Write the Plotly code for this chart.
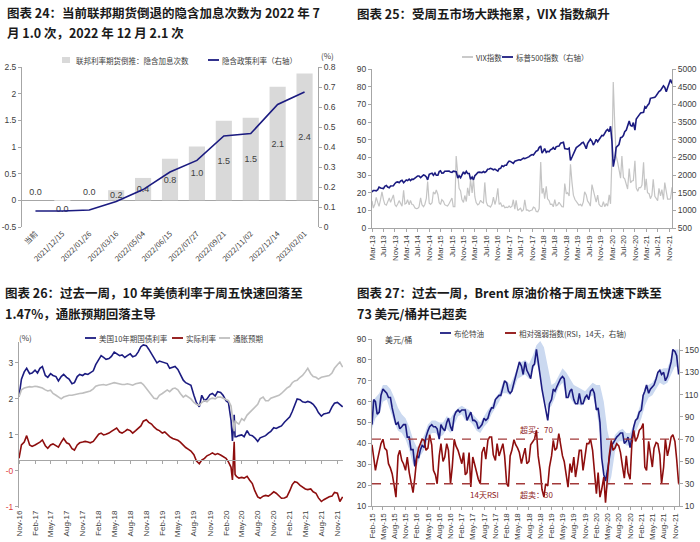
import pandas as pd
import plotly.graph_objects as go

# ---------------- panel 24: implied hikes / implied policy rate ----------------
meeting_labels = ['当前', '2021/12/15', '2022/01/26', '2022/03/16', '2022/05/04', '2022/06/15',
                  '2022/07/27', '2022/09/21', '2022/11/02', '2022/12/14', '2023/02/01']
hike_counts = [0.0, -0.001, 0.0, 0.19, 0.42, 0.78, 1.01, 1.49, 1.55, 2.13, 2.38]
hike_text = ['0.0', '0.0', '0.0', '0.2', '0.4', '0.8', '1.0', '1.5', '1.5', '2.1', '2.4']
implied_rate = [0.08, 0.08, 0.085, 0.128, 0.187, 0.275, 0.333, 0.455, 0.467, 0.613, 0.675]
hike_ticks = [2.5, 2, 1.5, 1, 0.5, 0, -0.5]

# ---------------- panel 25: VIX / S&P 500 (semi-monthly, from Mar-13) ----------------
vix = [15.4, 11.3, 13.6, 17.3, 14.5, 12.3, 16.3, 20.5, 16.0, 13.5, 12.9, 15.1, 17.0, 14.5, 16.6, 18.7, 13.1, 12.2, 13.7, 15.5,
       13.8, 12.3, 21.4, 13.6, 14.0, 16.0, 13.1, 15.6, 13.3, 13.2, 11.4, 11.0, 11.1, 11.9, 17.0, 13.2, 12.1, 13.3, 16.7, 26.3, 14.0, 13.3, 14.3, 20.4,
       19.2, 21.5, 19.0, 14.3, 13.3, 16.0, 15.1, 13.2, 12.7, 12.4, 13.9, 15.0, 17.0, 12.1, 12.1, 40.7, 31.4, 22.5, 21.0, 16.1, 14.5, 18.4, 15.0, 22.7,
       18.2, 27.6, 19.9, 28.1, 17.7, 14.4, 13.1, 13.6, 15.7, 14.7, 14.2, 25.8, 14.8, 12.7, 12.4, 11.8, 13.5, 17.5, 13.3, 16.1, 22.5, 13.4, 14.1, 12.2,
       12.8, 11.5, 11.8, 11.6, 12.5, 11.6, 12.4, 16.0, 10.6, 15.6, 9.9, 10.6, 11.2, 9.5, 10.3, 16.0, 10.1, 10.2, 9.5, 9.9, 10.2, 11.8, 11.4, 9.4,
       9.2, 10.9, 37.3, 19.5, 22.5, 16.6, 23.6, 16.5, 15.5, 13.4, 13.5, 12.0, 16.1, 12.6, 13.1, 14.6, 12.9, 12.1, 12.0, 25.2, 19.3, 20.0, 18.1, 36.1,
       25.4, 18.6, 16.1, 14.9, 13.6, 12.9, 13.4, 12.3, 14.8, 20.5, 18.7, 15.3, 14.1, 12.4, 24.6, 21.2, 16.3, 14.7, 18.6, 13.5, 12.3, 12.1, 14.9, 12.1,
       13.8, 12.4, 18.8, 13.7, 40.1, 82.7, 57.1, 40.8, 37.2, 31.9, 28.2, 40.8, 28.6, 27.8, 24.5, 22.1, 33.6, 25.6, 26.7, 26.9, 38.0, 22.7, 20.8, 22.9,
       22.8, 24.3, 37.2, 21.5, 27.9, 20.0, 19.4, 16.6, 18.6, 27.6, 17.9, 17.0, 15.5, 22.5, 18.2, 21.7, 16.1, 25.7, 21.1, 16.3, 16.4, 16.5, 23.0]
spx = [1518, 1561, 1562, 1552, 1582, 1658, 1631, 1626, 1615, 1682, 1706, 1661, 1640, 1688, 1695, 1698, 1762, 1798, 1806, 1781,
       1832, 1848, 1782, 1838, 1859, 1841, 1885, 1842, 1883, 1878, 1924, 1937, 1973, 1973, 1925, 1955, 2003, 1985, 1946, 1862, 2018, 2039, 2053, 1990,
       2058, 1992, 1995, 2096, 2117, 2053, 2059, 2106, 2108, 2122, 2111, 2084, 2077, 2107, 2104, 2091, 1914, 1978, 1923, 2023, 2090, 2023, 2102, 2043,
       2044, 1880, 1940, 1864, 1978, 2016, 2073, 2080, 2081, 2067, 2099, 2072, 2103, 2161, 2170, 2190, 2170, 2147, 2168, 2133, 2111, 2180, 2191, 2262,
       2239, 2275, 2279, 2349, 2395, 2385, 2362, 2329, 2388, 2402, 2430, 2432, 2423, 2459, 2476, 2464, 2476, 2500, 2519, 2553, 2579, 2564, 2642, 2675,
       2695, 2776, 2822, 2620, 2677, 2747, 2641, 2671, 2655, 2711, 2735, 2779, 2718, 2798, 2813, 2818, 2901, 2905, 2924, 2750, 2740, 2730, 2760, 2416,
       2510, 2610, 2706, 2775, 2803, 2822, 2867, 2905, 2924, 2850, 2744, 2886, 2964, 3014, 2953, 2848, 2926, 3007, 2940, 2995, 3066, 3120, 3113, 3191,
       3258, 3289, 3226, 3380, 2954, 2237, 2470, 2783, 2830, 2863, 3055, 3066, 3115, 3227, 3271, 3373, 3526, 3401, 3380, 3483, 3270, 3585, 3662, 3694,
       3756, 3768, 3774, 3934, 3901, 3968, 4020, 4170, 4181, 4173, 4202, 4246, 4320, 4360, 4395, 4468, 4524, 4480, 4357, 4471, 4613, 4700, 4590]

# ---------------- panel 26: US 10y, real rate, breakeven (semi-monthly, from Nov-16) ----------------
ust10 = [2.06, 2.55, 2.75, 2.85, 2.70, 2.72, 2.80, 2.72, 2.85, 2.90, 2.65, 2.60,
         2.70, 2.65, 2.62, 2.50, 2.62, 2.68, 2.60, 2.55, 2.42, 2.45, 2.62, 2.68,
         2.65, 2.70, 2.68, 2.72, 2.78, 2.95, 3.10, 3.20, 3.15, 3.10, 3.12, 3.18,
         3.30, 3.25, 3.20, 3.22, 3.15, 3.20, 3.25, 3.17, 3.20, 3.30, 3.45, 3.50,
         3.48, 3.38, 3.25, 3.10, 3.00, 3.05, 3.02, 3.00, 2.98, 2.85, 2.88, 2.90,
         2.82, 2.70, 2.52, 2.45, 2.42, 2.38, 2.10, 1.90, 1.78, 2.10, 1.95, 2.00,
         2.12, 2.15, 2.08, 2.20, 2.18, 2.10, 1.95, 1.90, 1.40, 1.20, 0.95, 0.98,
         1.00, 0.95, 1.12, 1.00, 0.98, 0.92, 0.82, 0.92, 0.95, 0.98, 1.05, 1.10,
         1.20, 1.18, 1.22, 1.25, 1.35, 1.42, 1.50, 1.65, 1.85, 2.00, 1.98, 1.92,
         1.90, 1.93, 1.90, 1.85, 1.75, 1.62, 1.52, 1.58, 1.60, 1.62, 1.78, 1.88,
         1.90, 1.85, 1.78]
breakeven = [2.06, 2.25, 2.30, 2.32, 2.34, 2.33, 2.35, 2.34, 2.33, 2.30, 2.25, 2.22,
             2.24, 2.15, 2.10, 2.05, 2.00, 2.05, 2.08, 2.10, 2.10, 2.12, 2.15, 2.15,
             2.16, 2.18, 2.20, 2.22, 2.28, 2.35, 2.38, 2.40, 2.40, 2.38, 2.42, 2.43,
             2.45, 2.43, 2.42, 2.40, 2.40, 2.42, 2.40, 2.38, 2.42, 2.44, 2.45, 2.40,
             2.30, 2.20, 2.10, 2.02, 2.00, 2.10, 2.15, 2.20, 2.25, 2.20, 2.28, 2.30,
             2.25, 2.15, 2.05, 2.10, 2.05, 2.00, 1.90, 1.85, 1.82, 1.90, 1.95, 1.92,
             2.00, 2.02, 2.00, 2.05, 2.05, 2.02, 2.00, 1.95, 1.80, 1.30, 1.35, 1.30,
             1.45, 1.40, 1.55, 1.62, 1.70, 1.75, 1.85, 2.00, 2.05, 1.95, 1.95, 2.02,
             2.05, 2.08, 2.10, 2.15, 2.25, 2.30, 2.35, 2.45, 2.50, 2.52, 2.60, 2.65,
             2.75, 2.85, 2.70, 2.62, 2.60, 2.55, 2.60, 2.62, 2.63, 2.65, 2.72, 2.85,
             2.95, 3.02, 2.88]
real_rate = [0.35, 0.72, 0.80, 0.98, 0.72, 0.68, 0.72, 0.75, 0.80, 0.86, 0.70, 0.63,
             0.72, 0.75, 0.70, 0.66, 0.80, 0.90, 0.78, 0.75, 0.62, 0.58, 0.72, 0.78,
             0.80, 0.82, 0.80, 0.78, 0.82, 0.90, 1.02, 1.05, 1.00, 1.02, 1.05, 1.10,
             1.15, 1.19, 1.08, 1.05, 1.10, 1.15, 1.12, 1.05, 1.12, 1.18, 1.25, 1.38,
             1.42, 1.35, 1.30, 1.22, 1.15, 1.12, 1.05, 1.08, 1.00, 0.95, 0.90, 0.88,
             0.85, 0.80, 0.70, 0.65, 0.60, 0.55, 0.45, 0.28, 0.20, 0.30, 0.35, 0.42,
             0.46, 0.50, 0.45, 0.48, 0.44, 0.40, 0.35, 0.25, 0.10, 0.20, -0.15, -0.20,
             -0.18, -0.20, -0.15, -0.25, -0.35, -0.55, -0.72, -0.76, -0.70, -0.68, -0.70, -0.65,
             -0.58, -0.62, -0.70, -0.76, -0.75, -0.72, -0.55, -0.38, -0.30, -0.32, -0.40, -0.45,
             -0.50, -0.52, -0.50, -0.58, -0.62, -0.75, -0.85, -0.80, -0.75, -0.72, -0.70, -0.60,
             -0.62, -0.85, -0.72]
# March 2020 swings
mar20_dates = ['2020-03-09', '2020-03-19', '2020-03-24']
ust10_mar20 = [0.83, 1.56, 0.95]
breakeven_mar20 = [1.45, 1.10, 1.40]
real_mar20 = [-0.25, 0.81, -0.10]
us_ticks = [3, 2, 1, 0, -1]
us_ticktext = ['3', '2', '1', '<span style="color:#e03c3c">-0</span>', '<span style="color:#e03c3c">-1</span>']
axis_cross = 0.3

# ---------------- panel 27: Brent, band, RSI (semi-monthly from Feb-15, band monthly) ----------------
brent = [49, 61, 60, 54, 55, 63, 66, 65, 64, 62, 62, 57, 52, 49, 50, 47, 48, 49, 49, 43, 43, 37,
         37, 29, 34, 33, 37, 39, 38, 43, 46, 48, 49, 48, 48, 47, 42, 49, 47, 46, 50, 52, 48, 46, 53, 55,
         56, 55, 56, 56, 56, 51, 53, 55, 51, 51, 50, 47, 48, 49, 52, 51, 52, 55, 57, 57, 61, 62, 63, 63,
         67, 70, 69, 65, 64, 65, 69, 72, 75, 79, 77, 73, 79, 75, 73, 71, 77, 78, 85, 80, 72, 66, 61, 56,
         51, 59, 61, 66, 65, 67, 69, 71, 72, 71, 62, 62, 65, 66, 61, 59, 59, 64, 59, 59, 62, 63, 61, 65,
         66, 64, 56, 57, 50, 33, 25, 22, 27, 32, 39, 40, 42, 43, 44, 45, 45, 40, 41, 43, 38, 43, 48, 51,
         52, 55, 56, 63, 65, 68, 64, 66, 67, 68, 71, 74, 75, 73, 74, 70, 72, 75, 79, 85, 84, 82, 73]
band_upper = [60, 62, 64, 68, 68, 66, 62, 57, 54, 52, 48,
              42, 38, 40, 44, 49, 51, 51, 50, 50, 53, 52, 55,
              57, 58, 57, 56, 54, 52, 50, 53, 56, 58, 62, 64,
              69, 70, 68, 72, 77, 79, 80, 78, 82, 87, 89, 86,
              76, 68, 69, 73, 76, 74, 71, 68, 67, 66, 65, 67,
              69, 68, 68, 60, 46, 38, 44, 46, 47, 45, 45, 49,
              55, 60, 67, 68, 69, 72, 75, 76, 76, 81, 85, 85]
band_lower = [47, 52, 54, 60, 61, 56, 50, 46, 45, 42, 37,
              30, 29, 34, 37, 42, 45, 45, 43, 44, 47, 45, 49,
              53, 54, 51, 51, 49, 46, 45, 48, 50, 54, 57, 60,
              64, 64, 63, 66, 71, 72, 73, 71, 75, 79, 72, 62,
              56, 58, 62, 67, 69, 63, 62, 59, 59, 58, 60, 62,
              63, 56, 45, 24, 18, 24, 36, 41, 41, 39, 39, 43,
              48, 52, 58, 62, 63, 66, 69, 68, 69, 73, 77, 76]
rsi = [65, 54, 42, 50, 60, 66, 70, 62, 60, 48, 44, 39, 28, 18, 55, 60, 51, 48, 42, 54, 40, 33,
       22, 35, 54, 62, 66, 70, 69, 60, 62, 74, 65, 42, 38, 30, 55, 66, 50, 54, 66, 60, 30, 45, 70, 64,
       60, 55, 48, 58, 38, 40, 58, 27, 54, 48, 39, 34, 30, 58, 63, 52, 69, 72, 72, 56, 51, 66, 55, 60,
       66, 55, 30, 27.5, 55, 60, 69.5, 65, 62, 58, 48, 55, 62, 48, 50, 65, 68, 70, 78, 55, 42, 25, 18, 30,
       28, 45, 55, 69, 60, 62, 75, 65, 55, 50, 39, 27, 48, 40, 54, 36, 48, 60, 60, 42, 55, 66, 66, 70,
       60, 45, 21, 40, 18, 25, 36, 13, 35, 55, 69, 60, 62, 66, 64, 58, 45, 35, 55, 40, 34, 65, 78, 68,
       72, 78, 80, 84, 45, 42, 68, 55, 45, 62, 67, 66, 56, 30, 45, 70, 55, 62, 72, 74, 68, 52, 30]
rsi_levels = [70, 30]

NAVY = '#1b1b80'
DARKRED = '#8e0e0e'
VIXGRAY = '#c4c4c4'
BEGRAY = '#bfbfbf'
BARGRAY = '#d9d9d9'
AXIS = '#a6a6a6'
TXT = '#404040'
CJK = 'Noto Sans CJK SC'

def semi_monthly(start, values):
    return pd.date_range(start, periods=len(values), freq='SMS')

def with_extra(start, values, extra_dates, extra_values):
    s = pd.Series(values, index=semi_monthly(start, values))
    e = pd.Series(extra_values, index=pd.to_datetime(extra_dates))
    return pd.concat([s, e]).sort_index()

def px_x(p):
    return p / 700

def px_y(p):
    return 1 - p / 542

fig = go.Figure()

# panel 24
fig.add_trace(go.Bar(x=meeting_labels, y=hike_counts, text=hike_text,
                     textposition=['outside'] * 3 + ['inside'] * 8, insidetextanchor='middle', textangle=0,
                     textfont=dict(size=9, color=TXT, family='Liberation Sans'), cliponaxis=False,
                     marker=dict(color=BARGRAY, line=dict(width=0)), showlegend=False,
                     name='联邦利率期货倒推：隐含加息次数', xaxis='x', yaxis='y'))
fig.add_trace(go.Scatter(x=meeting_labels, y=implied_rate, mode='lines', line=dict(color=NAVY, width=1.6),
                         showlegend=False, name='隐含政策利率（右轴）', xaxis='x', yaxis='y2'))

# panel 25
fig.add_trace(go.Scatter(x=semi_monthly('2013-03-01', vix), y=vix, mode='lines', line=dict(color=VIXGRAY, width=1.2),
                         showlegend=False, name='VIX指数', xaxis='x2', yaxis='y3'))
fig.add_trace(go.Scatter(x=semi_monthly('2013-03-01', spx), y=spx, mode='lines', line=dict(color=NAVY, width=1.6),
                         showlegend=False, name='标普500指数（右轴）', xaxis='x2', yaxis='y4'))

# panel 26
s10 = with_extra('2016-11-01', ust10, mar20_dates, ust10_mar20)
sbe = with_extra('2016-11-01', breakeven, mar20_dates, breakeven_mar20)
sre = with_extra('2016-11-01', real_rate, mar20_dates, real_mar20)
fig.add_trace(go.Scatter(x=s10.index, y=s10.values, mode='lines', line=dict(color=NAVY, width=1.6),
                         showlegend=False, name='美国10年期国债利率', xaxis='x3', yaxis='y5'))
fig.add_trace(go.Scatter(x=sre.index, y=sre.values, mode='lines', line=dict(color=DARKRED, width=1.6),
                         showlegend=False, name='实际利率', xaxis='x5', yaxis='y5'))
fig.add_trace(go.Scatter(x=sbe.index, y=sbe.values, mode='lines', line=dict(color=BEGRAY, width=1.6),
                         showlegend=False, name='通胀预期', xaxis='x3', yaxis='y5'))

# panel 27
d_band = pd.date_range('2015-02-01', periods=len(band_upper), freq='MS')
fig.add_trace(go.Scatter(x=d_band, y=band_lower, mode='lines', line=dict(width=0, color='#cbd9f0'),
                         showlegend=False, hoverinfo='skip', xaxis='x4', yaxis='y6'))
fig.add_trace(go.Scatter(x=d_band, y=band_upper, mode='lines', line=dict(width=0, color='#cbd9f0'),
                         fill='tonexty', fillcolor='#cbd9f0', showlegend=False, hoverinfo='skip',
                         xaxis='x4', yaxis='y6'))
fig.add_trace(go.Scatter(x=semi_monthly('2015-02-01', brent), y=brent, mode='lines', line=dict(color=NAVY, width=1.6),
                         showlegend=False, name='布伦特油', xaxis='x4', yaxis='y6'))
fig.add_trace(go.Scatter(x=semi_monthly('2015-02-01', rsi), y=rsi, mode='lines', line=dict(color=DARKRED, width=1.6),
                         showlegend=False, name='相对强弱指数(RSI，14天，右轴)', xaxis='x4', yaxis='y7'))

for lvl in rsi_levels:
    fig.add_shape(type='line', xref='x4 domain', yref='y7', x0=0, x1=1, y0=lvl, y1=lvl,
                  line=dict(color='#a33a3a', width=1.3, dash='dash'))

# small legends: (symbol x, y, kind, colour, label) in page pixels
legend_items = [
    (62, 60, 'box', BARGRAY, '联邦利率期货倒推：隐含加息次数'),
    (208, 60, 'line', NAVY, '隐含政策利率（右轴）'),
    (462, 57, 'line', VIXGRAY, 'VIX指数'),
    (502, 57, 'line', NAVY, '标普500指数（右轴）'),
    (85, 338, 'line', NAVY, '美国10年期国债利率'),
    (172, 338, 'line', DARKRED, '实际利率'),
    (219, 338, 'line', BEGRAY, '通胀预期'),
    (440, 333, 'line', NAVY, '布伦特油'),
    (505, 333, 'line', DARKRED, '相对强弱指数(RSI，14天，右轴)'),
]
for x, y, kind, col, label in legend_items:
    if kind == 'box':
        fig.add_shape(type='rect', xref='paper', yref='paper', x0=px_x(x), x1=px_x(x + 8),
                      y0=px_y(y + 3), y1=px_y(y - 3), fillcolor=col, line=dict(width=0))
    else:
        fig.add_shape(type='line', xref='paper', yref='paper', x0=px_x(x), x1=px_x(x + 11),
                      y0=px_y(y), y1=px_y(y), line=dict(color=col, width=1.8))
    fig.add_annotation(xref='paper', yref='paper', x=px_x(x + 12), y=px_y(y), text=label, showarrow=False,
                       xanchor='left', yanchor='middle', font=dict(size=7.5, color=TXT, family=CJK))

tick = dict(size=8.5, color=TXT, family='Liberation Sans')
date_tick = dict(size=8, color=TXT, family='Liberation Sans')
yax = dict(showgrid=False, zeroline=False, showline=True, linecolor=AXIS, linewidth=1, automargin=False,
           ticks='outside', ticklen=3, tickcolor=AXIS, tickfont=tick)
dax = dict(type='date', showgrid=False, zeroline=False, showline=True, linecolor=AXIS, automargin=False,
           ticks='outside', ticklen=3, tickcolor=AXIS, tickformat='%b-%y', tickangle=-90, tickfont=date_tick)

us_rng = [-1.03, 3.58]
us_dom = [px_y(508), px_y(342)]
cross_pos = us_dom[0] + (axis_cross - us_rng[0]) / (us_rng[1] - us_rng[0]) * (us_dom[1] - us_dom[0])

fig.update_layout(
    width=700, height=542, margin=dict(l=0, r=0, t=0, b=0, autoexpand=False),
    paper_bgcolor='white', plot_bgcolor='white', showlegend=False,
    font=dict(family=CJK, color=TXT),
    uniformtext=dict(minsize=9, mode='show'),
    bargap=0.4,
    xaxis=dict(domain=[px_x(22), px_x(318)], anchor='y', type='category', tickangle=-45, automargin=False,
               showline=False, ticks='', tickfont=dict(size=7.5, color=TXT, family=CJK)),
    yaxis=dict(yax, domain=[px_y(227), px_y(67)], anchor='x', range=[-0.5, 2.5],
               tickvals=hike_ticks, ticktext=[f'{v:g}' for v in hike_ticks],
               zeroline=True, zerolinecolor=AXIS, zerolinewidth=1),
    yaxis2=dict(yax, overlaying='y', side='right', anchor='x', range=[0, 0.8], dtick=0.1),
    xaxis2=dict(dax, domain=[px_x(372), px_x(672)], anchor='y3', range=['2013-03-01', '2021-12-01'],
                tick0='2013-03-01', dtick='M4'),
    yaxis3=dict(yax, domain=[px_y(228), px_y(69)], anchor='x2', range=[0, 90], dtick=10),
    yaxis4=dict(yax, overlaying='y3', side='right', anchor='x2', range=[500, 5000], dtick=500),
    xaxis3=dict(dax, domain=[px_x(19), px_x(343)], anchor='y5', range=['2016-11-01', '2021-12-03'],
                tick0='2016-11-01', dtick='M3', showline=False, ticks=''),
    xaxis5=dict(dax, overlaying='x3', anchor='free', position=cross_pos, range=['2016-11-01', '2021-12-03'],
                tick0='2016-11-01', dtick='M3', showticklabels=False),
    yaxis5=dict(yax, domain=us_dom, anchor='x3', range=us_rng, tickvals=us_ticks, ticktext=us_ticktext),
    xaxis4=dict(dax, domain=[px_x(372), px_x(679)], anchor='y6', range=['2015-02-01', '2021-12-04'],
                tick0='2015-02-01', dtick='M3'),
    yaxis6=dict(yax, domain=[px_y(506), px_y(339)], anchor='x4', range=[10, 90], dtick=10),
    yaxis7=dict(yax, overlaying='y6', side='right', anchor='x4', range=[10, 160],
                tickvals=list(range(10, 151, 20))),
)

title_font = dict(size=12.5, color='#1a1a1a', family=CJK)
titles = [
    (5, 12, '图表 24：当前联邦期货倒退的隐含加息次数为 2022 年 7'),
    (5, 33, '月 1.0 次，2022 年 12 月 2.1 次'),
    (355, 13, '图表 25：受周五市场大跌拖累，VIX 指数飙升'),
    (3, 292, '图表 26：过去一周，10 年美债利率于周五快速回落至'),
    (3, 313, '1.47%，通胀预期回落主导'),
    (355, 292, '图表 27：过去一周，Brent 原油价格于周五快速下跌至'),
    (355, 313, '73 美元/桶并已超卖'),
]
for x, y, t in titles:
    fig.add_annotation(xref='paper', yref='paper', x=px_x(x), y=px_y(y), text='<b>' + t + '</b>',
                       showarrow=False, xanchor='left', yanchor='middle', font=title_font)

small = dict(size=8, color=TXT, family=CJK)
fig.add_annotation(xref='paper', yref='paper', x=px_x(327), y=px_y(49), text='(%)', showarrow=False,
                   font=small, borderpad=0)
fig.add_annotation(xref='paper', yref='paper', x=px_x(17), y=px_y(337), text='(%)', showarrow=False, font=small)
fig.add_annotation(xref='paper', yref='paper', x=px_x(383), y=px_y(339), text='美元/桶', showarrow=False,
                   xanchor='left', font=small)

red_small = dict(size=8, color='#8e1a1a', family=CJK)
fig.add_annotation(xref='x4', yref='y7', x='2018-10-01', y=78.5, text='超买：70', showarrow=False, font=red_small)
fig.add_annotation(xref='x4', yref='y7', x='2018-10-01', y=20, text='超卖：30', showarrow=False, font=red_small)
fig.add_annotation(xref='x4', yref='y7', x='2017-08-01', y=20, text='14天RSI', showarrow=False, font=red_small)

fig.write_html("out.html", config={'displayModeBar': False},
               post_script="document.body.style.margin='0px';")
